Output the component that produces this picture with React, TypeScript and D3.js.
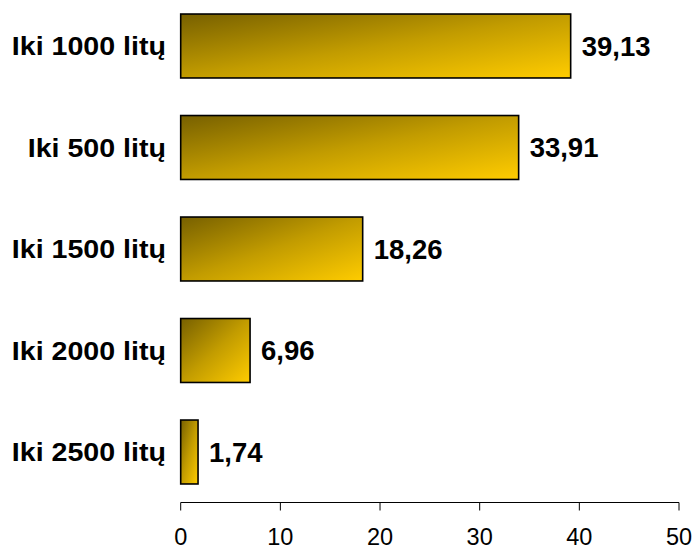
import React from "react";
import * as d3 from "d3";

const categories = ["Iki 1000 litų", "Iki 500 litų", "Iki 1500 litų", "Iki 2000 litų", "Iki 2500 litų"];
const values = [39.13, 33.91, 18.26, 6.96, 1.74];
const ticks = [0, 10, 20, 30, 40, 50];

const W = 696;
const H = 550;

export default function App() {
  const x = d3.scaleLinear().domain([0, 50]).range([180.7, 679]);
  const y = d3.scaleBand<string>().domain(categories).range([-4.75, 502.75]).paddingInner(0.37).paddingOuter(0.185);
  const axisY = 502.5;
  const fmt = (v: number) => v.toFixed(2).replace(".", ",");
  return (
    <svg width={W} height={H} style={{ position: "absolute", left: 0, top: 0, background: "#fff" }}>
      <defs>
        <linearGradient id="g" x1="0" y1="0" x2="1" y2="1">
          <stop offset="0" stopColor="#776000" />
          <stop offset="0.5" stopColor="#c29c00" />
          <stop offset="1" stopColor="#ffcc00" />
        </linearGradient>
      </defs>
      {categories.map((c, i) => {
        const yy = y(c)!;
        const bw = y.bandwidth();
        const cy = yy + bw / 2;
        return (
          <g key={c}>
            <rect x={x(0)} y={yy} width={x(values[i]) - x(0)} height={bw} fill="url(#g)" stroke="#000" strokeWidth={1.6} />
            <text transform={`translate(166,${cy}) scale(1.1,1)`} dy="0.35em" textAnchor="end" fontFamily="Liberation Sans, Arial, sans-serif" fontWeight="bold" fontSize={26} fill="#000">{c}</text>
            <text x={x(values[i]) + 11} y={cy} dy="0.35em" textAnchor="start" fontFamily="Liberation Sans, Arial, sans-serif" fontWeight="bold" fontSize={27.5} fill="#000">{fmt(values[i])}</text>
          </g>
        );
      })}
      <line x1={x(0)} x2={x(50)} y1={axisY} y2={axisY} stroke="#000" strokeWidth={1} />
      {ticks.map((t) => (
        <g key={t}>
          <line x1={x(t)} x2={x(t)} y1={axisY} y2={axisY + 8} stroke="#000" strokeWidth={1} />
          <text x={x(t)} y={545} textAnchor="middle" fontFamily="Liberation Sans, Arial, sans-serif" fontSize={23.5} fill="#000">{t}</text>
        </g>
      ))}
    </svg>
  );
}
